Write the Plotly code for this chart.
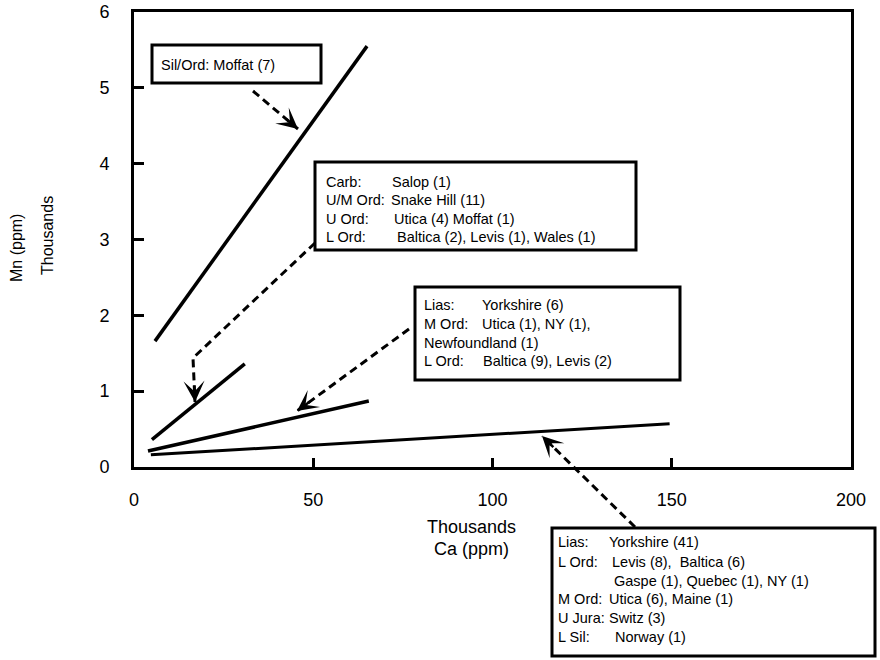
import math
import plotly.graph_objects as go

# ---- data ----
ca_start = [5.85, 5.0, 3.9, 4.7]        # Ca, thousands ppm
ca_end = [65.0, 30.9, 65.5, 149.4]
mn_start = [1.66, 0.36, 0.21, 0.16]     # Mn, thousands ppm
mn_end = [5.55, 1.36, 0.87, 0.57]
x_ticks = [0, 50, 100, 150, 200]
y_ticks = [0, 1, 2, 3, 4, 5, 6]

box1_rows = [("Sil/Ord: Moffat (7)", "")]
box2_rows = [("Carb:", "Salop (1)"), ("U/M Ord:", "Snake Hill (11)"),
             ("U Ord:", "Utica (4) Moffat (1)"), ("L Ord:", "Baltica (2), Levis (1), Wales (1)")]
box3_rows = [("Lias:", "Yorkshire (6)"), ("M Ord:", "Utica (1), NY (1),"),
             ("Newfoundland (1)", ""), ("L Ord:", "Baltica (9), Levis (2)")]
box4_rows = [("Lias:", "Yorkshire (41)"), ("L Ord:", "Levis (8),\u00a0 Baltica (6)"),
             ("", "Gaspe (1), Quebec (1), NY (1)"), ("M Ord:", "Utica (6), Maine (1)"),
             ("U Jura:", "Switz (3)"), ("L Sil:", "Norway (1)")]

# ---- geometry ----
W, H = 880, 660
L, R, T, B = 134, 29, 12, 193
pw, ph = W - L - R, H - T - B


def px(x):
    return (x - L) / pw


def py(y):
    return (H - B - y) / ph


fig = go.Figure()
widths = [3.5, 3.5, 3.5, 3.0]
for i in range(len(ca_start)):
    fig.add_trace(go.Scatter(x=[ca_start[i], ca_end[i]], y=[mn_start[i], mn_end[i]],
                             mode="lines", line=dict(color="black", width=widths[i]),
                             showlegend=False, hoverinfo="skip", cliponaxis=False))

TF = dict(family="Liberation Sans, Arial, sans-serif", size=18, color="black")
BF = dict(family="Liberation Sans, Arial, sans-serif", size=14.5, color="black")

shapes = []
annos = []


def box(x0, y0, x1, y1, rows, lx, vxs, ys):
    shapes.append(dict(type="rect", xref="paper", yref="paper", x0=px(x0), x1=px(x1),
                       y0=py(y1), y1=py(y0), line=dict(color="black", width=3),
                       fillcolor="white", layer="above"))
    for (lab, val), vx, yc in zip(rows, vxs, ys):
        if lab:
            annos.append(dict(text=lab, x=px(lx), y=py(yc), xref="paper", yref="paper",
                              xanchor="left", yanchor="middle", showarrow=False, font=BF))
        if val:
            annos.append(dict(text=val, x=px(vx), y=py(yc), xref="paper", yref="paper",
                              xanchor="left", yanchor="middle", showarrow=False, font=BF))


box(152, 45, 321, 83, box1_rows, 159, [0], [65])
box(315, 162, 636, 250, box2_rows, 324, [390, 389, 392, 395], [182, 200, 219, 237])
box(415, 287, 680, 380, box3_rows, 422, [480, 480, 0, 481], [305, 324, 343, 361])
box(552, 528, 875, 656, box4_rows, 556, [607, 610, 612, 607, 607, 613],
    [542, 562, 581, 599, 618, 637])

DASH = "8px,5px"


def arrow(points):
    # dashed polyline, then arrowhead at last point
    path = "M " + " L ".join(f"{px(x):.5f},{py(y):.5f}" for x, y in points)
    shapes.append(dict(type="path", xref="paper", yref="paper", path=path,
                       line=dict(color="black", width=3, dash=DASH), layer="above"))
    (x1, y1), (x2, y2) = points[-2], points[-1]
    d = math.hypot(x2 - x1, y2 - y1)
    ux, uy = (x2 - x1) / d, (y2 - y1) / d
    annos.append(dict(text="", x=px(x2), y=py(y2), xref="paper", yref="paper",
                      ax=-ux * 18, ay=-uy * 18, axref="pixel", ayref="pixel",
                      showarrow=True, arrowhead=3, arrowsize=1.4, arrowwidth=2.5,
                      arrowcolor="black", standoff=0))


arrow([(253, 91), (298, 129)])
arrow([(315, 243), (193, 358), (194, 380), (195, 402)])
arrow([(409, 329), (297, 411)])
arrow([(635, 527), (542, 436)])

AF = dict(family="Liberation Sans, Arial, sans-serif", size=18, color="black")
annos += [
    dict(text="Thousands", x=px(471), y=py(527), xref="paper", yref="paper",
         showarrow=False, font=AF, xanchor="center", yanchor="middle"),
    dict(text="Ca (ppm)", x=px(471), y=py(549), xref="paper", yref="paper",
         showarrow=False, font=AF, xanchor="center", yanchor="middle"),
    dict(text="Mn (ppm)", x=px(17), y=py(248), xref="paper", yref="paper",
         showarrow=False, font=dict(AF, size=16), textangle=-90,
         xanchor="center", yanchor="middle"),
    dict(text="Thousands", x=px(47), y=py(236), xref="paper", yref="paper",
         showarrow=False, font=dict(AF, size=16), textangle=-90,
         xanchor="center", yanchor="middle"),
]

fig.update_layout(
    width=W, height=H, margin=dict(l=L, r=R, t=T, b=B, autoexpand=False),
    paper_bgcolor="white", plot_bgcolor="white",
    shapes=shapes, annotations=annos,
    xaxis=dict(range=[0, 200], tickvals=x_ticks, ticks="inside", ticklen=9,
               tickwidth=3, tickcolor="black", showline=True, linewidth=3,
               linecolor="black", mirror=True, showgrid=False, zeroline=False,
               tickfont=TF, ticklabelstandoff=14, automargin=False),
    yaxis=dict(range=[0, 6], tickvals=y_ticks, ticks="inside", ticklen=10,
               tickwidth=3, tickcolor="black", showline=True, linewidth=3,
               linecolor="black", mirror=True, showgrid=False, zeroline=False,
               tickfont=TF, ticklabelstandoff=18, automargin=False),
)

fig.write_html("out.html")
